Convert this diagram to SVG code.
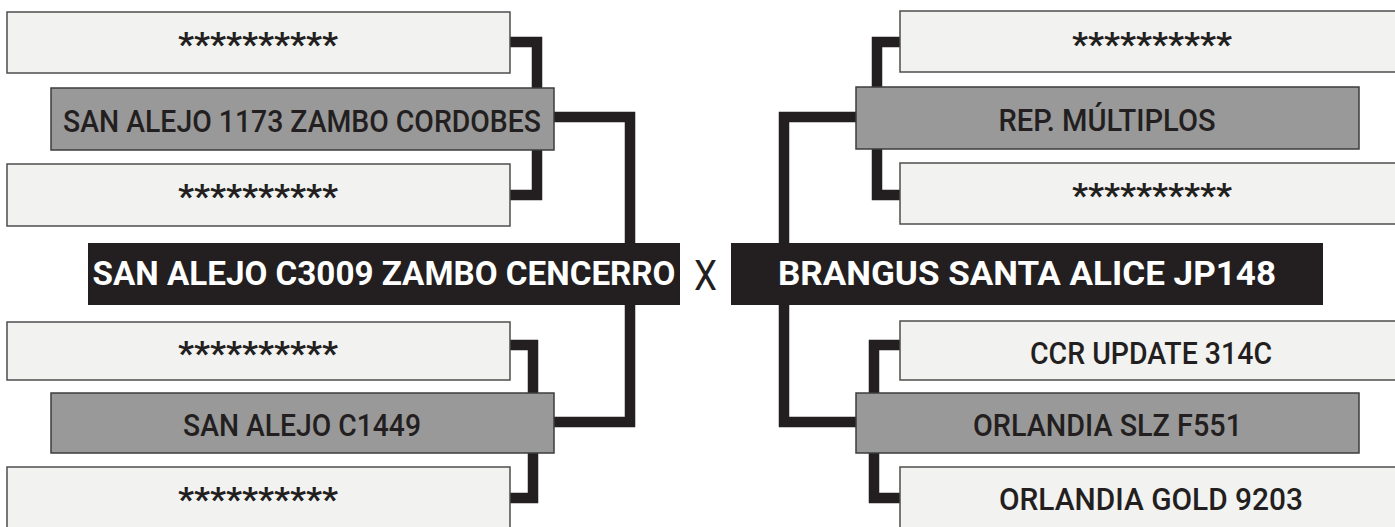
<svg xmlns="http://www.w3.org/2000/svg" width="1395" height="527" viewBox="0 0 1395 527">
  <style>
    .light { fill: #f2f2f0; stroke: #4d4d4d; stroke-width: 1.5; }
    .gray { fill: #999999; stroke: #3d3d3d; stroke-width: 1.5; }
    .black { fill: #231f20; }
    .conn { fill: none; stroke: #231f20; stroke-width: 10.5; stroke-linejoin: miter; stroke-linecap: butt; }
    .t { font-family: Roboto, "Liberation Sans", sans-serif; font-size: 32px; font-weight: 500; fill: #231f20; text-anchor: middle; }
    .ast { font-family: Roboto, "Liberation Sans", sans-serif; font-size: 33px; font-weight: bold; fill: #231f20; text-anchor: middle; }
    .w { font-family: Roboto, "Liberation Sans", sans-serif; font-size: 33px; font-weight: bold; fill: #ffffff; text-anchor: middle; }
    .x { font-family: Roboto, "Liberation Sans", sans-serif; font-size: 42px; fill: #231f20; text-anchor: middle; }
  </style>
  <rect width="1395" height="527" fill="#ffffff"/>
  <g id="connectors">
    <path class="conn" d="M505,42 H537 V195 H505"/>
    <path class="conn" d="M505,345 H533 V498 H505"/>
    <path class="conn" d="M550,117 H630 V422 H550"/>
    <path class="conn" d="M860,117 H784 V422 H860"/>
    <path class="conn" d="M905,42 H877 V195 H905"/>
    <path class="conn" d="M905,345 H874 V498 H905"/>
  </g>
  <g id="l1">
    <rect class="light" x="7" y="12" width="503" height="61"/>
    <text class="ast" x="258" y="56" textLength="160" lengthAdjust="spacingAndGlyphs">**********</text>
  </g>
  <g id="l2">
    <rect class="gray" x="51" y="88" width="503" height="62"/>
    <text class="t" x="302" y="132" textLength="478" lengthAdjust="spacingAndGlyphs">SAN ALEJO 1173 ZAMBO CORDOBES</text>
  </g>
  <g id="l3">
    <rect class="light" x="7" y="164" width="503" height="62"/>
    <text class="ast" x="258" y="208" textLength="160" lengthAdjust="spacingAndGlyphs">**********</text>
  </g>
  <g id="left-main">
    <rect class="black" x="88" y="243" width="592" height="62"/>
    <text class="w" x="384" y="285" textLength="583" lengthAdjust="spacingAndGlyphs">SAN ALEJO C3009 ZAMBO CENCERRO</text>
  </g>
  <g id="versus">
    <text class="x" x="705.5" y="290" textLength="23" lengthAdjust="spacingAndGlyphs">X</text>
  </g>
  <g id="right-main">
    <rect class="black" x="731" y="243" width="592" height="62"/>
    <text class="w" x="1027" y="285" textLength="498" lengthAdjust="spacingAndGlyphs">BRANGUS SANTA ALICE JP148</text>
  </g>
  <g id="l4">
    <rect class="light" x="7" y="322" width="503" height="58"/>
    <text class="ast" x="258" y="365" textLength="160" lengthAdjust="spacingAndGlyphs">**********</text>
  </g>
  <g id="l5">
    <rect class="gray" x="51" y="393" width="503" height="60"/>
    <text class="t" x="302" y="436" textLength="238" lengthAdjust="spacingAndGlyphs">SAN ALEJO C1449</text>
  </g>
  <g id="l6">
    <rect class="light" x="7" y="467" width="503" height="62"/>
    <text class="ast" x="258" y="511" textLength="160" lengthAdjust="spacingAndGlyphs">**********</text>
  </g>
  <g id="r1">
    <rect class="light" x="900" y="11" width="504" height="61"/>
    <text class="ast" x="1152" y="56" textLength="160" lengthAdjust="spacingAndGlyphs">**********</text>
  </g>
  <g id="r2">
    <rect class="gray" x="856" y="87" width="503" height="62"/>
    <text class="t" x="1107" y="131" textLength="217" lengthAdjust="spacingAndGlyphs">REP. MÚLTIPLOS</text>
  </g>
  <g id="r3">
    <rect class="light" x="900" y="163" width="504" height="61"/>
    <text class="ast" x="1152" y="207" textLength="160" lengthAdjust="spacingAndGlyphs">**********</text>
  </g>
  <g id="r4">
    <rect class="light" x="900" y="321" width="504" height="59"/>
    <text class="t" x="1151" y="364" textLength="242" lengthAdjust="spacingAndGlyphs">CCR UPDATE 314C</text>
  </g>
  <g id="r5">
    <rect class="gray" x="856" y="393" width="503" height="60"/>
    <text class="t" x="1107.5" y="436" textLength="269" lengthAdjust="spacingAndGlyphs">ORLANDIA SLZ F551</text>
  </g>
  <g id="r6">
    <rect class="light" x="900" y="467" width="504" height="62"/>
    <text class="t" x="1151" y="510" textLength="304" lengthAdjust="spacingAndGlyphs">ORLANDIA GOLD 9203</text>
  </g>
</svg>
